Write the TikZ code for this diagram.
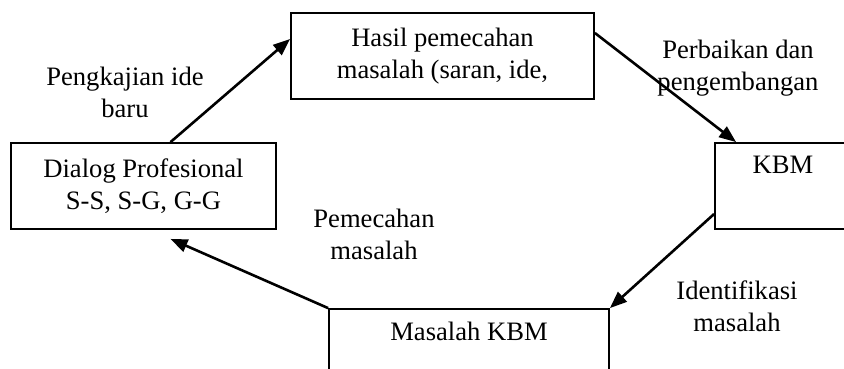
\documentclass[tikz,border=0pt]{standalone}
\usepackage{fontspec}
\setmainfont{Liberation Serif}
\usetikzlibrary{arrows.meta}

\begin{document}
\begin{tikzpicture}[x=1pt, y=-1pt,
  font=\fontsize{26.6}{32}\selectfont,
  kotak/.style={draw, line width=1.8pt, align=center, inner sep=0pt, minimum height=86pt},
  label/.style={align=center, inner sep=0pt},
  panah/.style={line width=2.6pt, -{Triangle[length=17pt,width=13pt]}}]
\useasboundingbox (0,0) rectangle (844,369);
\clip (0,0) rectangle (844,369);

\node [kotak, minimum width=265pt] (dialog) at (143.5,186) {Dialog Profesional\\S-S, S-G, G-G};
\node [kotak, minimum width=303pt] (hasil) at (442.5,56) {Hasil pemecahan\\masalah (saran, ide,};
\node [kotak, minimum width=136pt] (kbm) at (783,186) {KBM\\\strut};
\node [kotak, minimum width=280pt] (masalah) at (469,352) {Masalah KBM\\\strut};

\node [label] (kaji) at (125,92) {Pengkajian ide\\baru};
\node [label] (baik) at (738,68) {Perbaikan dan\\pengembangan};
\node [label] (pecah) at (374,234) {Pemecahan\\masalah};
\node [label] (identi) at (737,306) {Identifikasi\\masalah};

\draw [panah] ([xshift=27pt]dialog.north) -- ([yshift=17pt]hasil.west);
\draw [panah] ([yshift=23pt]hasil.east) -- ([xshift=22pt]kbm.north west);
\draw [panah] ([yshift=-28pt]kbm.west) -- (masalah.north east);
\draw [panah] (masalah.north west) -- ([xshift=27pt,yshift=-9pt]dialog.south);

\end{tikzpicture}
\end{document}
